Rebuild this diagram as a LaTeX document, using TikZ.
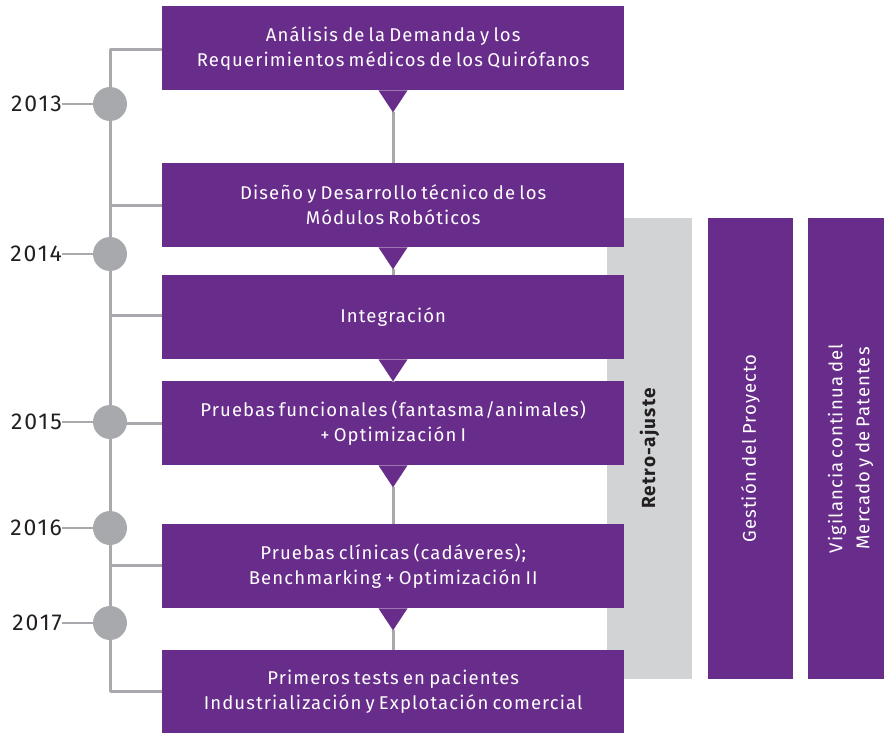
\documentclass[tikz,border=0pt]{standalone}
\usepackage{fontspec}
\setmainfont{Fira Sans}[LetterSpace=6,WordSpace=0.7]
\definecolor{morado}{RGB}{104,44,139}
\definecolor{gris}{RGB}{167,169,172}
\definecolor{grisclaro}{RGB}{209,211,212}
\definecolor{tinta}{RGB}{35,31,32}
\begin{document}
\begin{tikzpicture}[x=1pt,y=-1pt,line join=round,
	caja/.style={fill=morado,text=white,minimum width=462pt,minimum height=84pt,inner sep=0pt,align=center,anchor=north west,font=\fontsize{18.5}{25}\selectfont},
	barra/.style={fill=morado,text=white,rotate=90,minimum width=461pt,minimum height=85pt,inner sep=0pt,align=center,font=\fontsize{18.5}{27}\selectfont},
	linea/.style={gris,line width=3pt},
	hito/.style={circle,fill=gris,minimum size=34pt,inner sep=0pt},
	anio/.style={text=tinta,anchor=east,inner sep=0pt,font=\fontsize{23}{24}\selectfont\addfontfeature{LetterSpace=8}}]
	\clip (0,0) rectangle (884,733);
	% barras laterales
	\node[barra,fill=grisclaro,text=tinta,font=\fontsize{19}{25}\selectfont\bfseries] (retro) at (649.5,448.5) {Retro-ajuste};
	\node[barra] (gestion) at (750.5,448.5) {Gestión del Proyecto};
	\node[barra] (vigil) at (850.5,448.5) {Vigilancia continua del\\Mercado y de Patentes};
	% cajas
	\node[caja] (c1) at (162,6) {Análisis de la Demanda y los\\Requerimientos médicos de los Quirófanos};
	\node[caja] (c2) at (162,163) {Diseño y Desarrollo técnico de los\\Módulos Robóticos};
	\node[caja] (c3) at (162,275) {Integración};
	\node[caja] (c4) at (162,381) {Pruebas funcionales (fantasma/animales)\\+ Optimización I};
	\node[caja] (c5) at (162,524) {Pruebas clínicas (cadáveres);\\Benchmarking + Optimización II};
	\node[caja] (c6) at (162,650) {Primeros tests en pacientes\\Industrialización y Explotación comercial};
	% flechas entre cajas
	\foreach \a/\b in {c1/c2,c2/c3,c3/c4,c4/c5,c5/c6}{
		\coordinate (p\a) at ([yshift=-22pt]\a.south -| 393,0);
		\draw[linea] (p\a) -- (\b.north -| p\a);
		\fill[morado] ([xshift=-14.5pt]\a.south -| 393,0) -- ([xshift=14.5pt]\a.south -| 393,0) -- (p\a) -- cycle;
	}
	% linea de tiempo
	\coordinate (top) at (110,50);
	\coordinate (bot) at (110,691);
	\draw[linea] (c1.west |- top) -- (top) -- (bot) -- (c6.west |- bot);
	\foreach \y in {205,315,423,565}
		\draw[linea] (110,\y) -- (162,\y);
	\foreach \n/\y in {2013/104,2014/254,2015/422,2016/528,2017/623}{
		\node[hito] (h\n) at (110,\y) {};
		\node[anio] (a\n) at (62,\y) {\n};
		\draw[linea,line width=2pt] (a\n.east) -- (h\n);
	}
\end{tikzpicture}
\end{document}
